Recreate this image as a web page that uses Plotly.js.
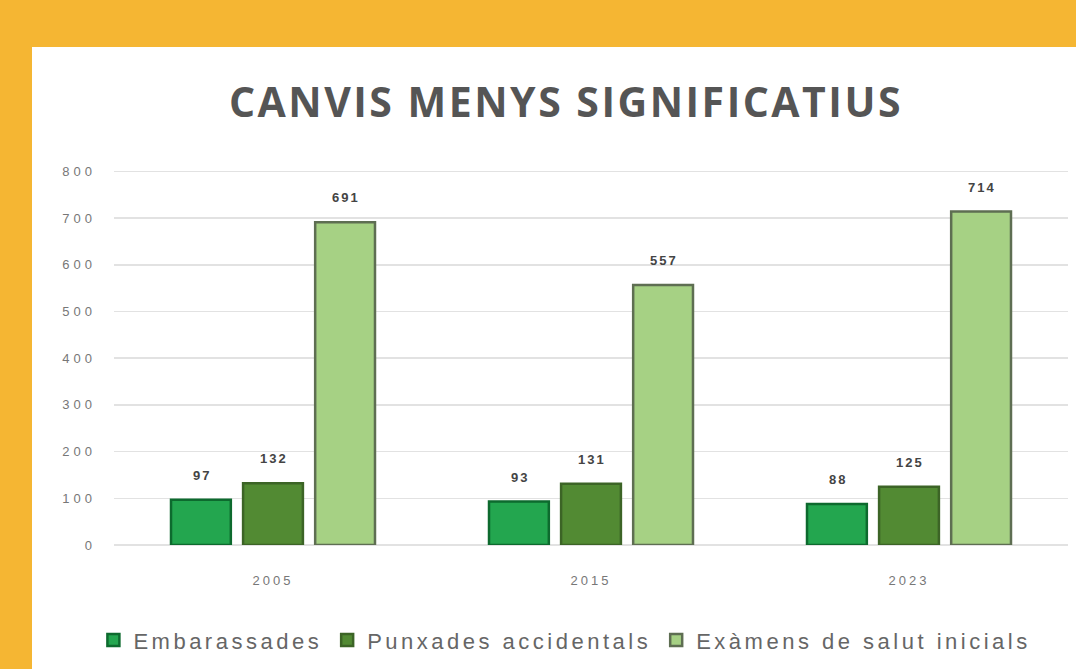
<!DOCTYPE html>
<html>
<head>
<meta charset="utf-8">
<script src="https://cdn.plot.ly/plotly-3.0.1.min.js"></script>
<style>
  html, body { margin: 0; padding: 0; width: 1076px; height: 669px; overflow: hidden; background: #F5B633; }
  #panel { position: absolute; left: 32px; top: 47px; width: 1044px; height: 622px; background: #ffffff; }
  #chart { position: absolute; left: 0; top: 0; width: 1076px; height: 669px; }
  .xtick text { letter-spacing: 3px; }
  .ytick text { letter-spacing: 4px; }
  .legendtext { letter-spacing: 3.5px; }
  .annotation-text { letter-spacing: 2px; }
  .gtitle { letter-spacing: 2.5px; }
</style>
</head>
<body>
<div id="panel"></div>
<div id="chart"></div>
<script>
const years = ["2005", "2015", "2023"];
const seriesNames = ["Embarassades", "Punxades accidentals", "Exàmens de salut inicials"];
const embarassades = [97, 93, 88];
const punxades = [132, 131, 125];
const examens = [691, 557, 714];
const yTicks = [0, 100, 200, 300, 400, 500, 600, 700, 800];

const fills = ["#23A64F", "#528A33", "#A6D184"];
const borders = ["#0D6A2E", "#3C6426", "#5E6E52"];
const values = [embarassades, punxades, examens];

const traces = values.map((v, i) => ({
  type: "bar",
  name: seriesNames[i],
  x: years,
  y: v,
  marker: { color: fills[i], line: { color: borders[i], width: 2.5 } },
  hoverinfo: "x+y+name"
}));

// value labels above each bar (positioned through the category axis index and the y axis)
const slotShift = [-72, 0, 72];
const annotations = [];
values.forEach((v, i) => {
  v.forEach((val, j) => {
    annotations.push({
      x: j, y: val, xref: "x", yref: "y",
      text: "<b>" + val + "</b>",
      showarrow: false,
      xanchor: "center", yanchor: "bottom",
      xshift: slotShift[i] + 1, yshift: 15,
      font: { family: "Liberation Sans, Arial, sans-serif", size: 13, color: "#444444" }
    });
  });
});

const layout = {
  width: 1076,
  height: 669,
  paper_bgcolor: "rgba(0,0,0,0)",
  plot_bgcolor: "rgba(0,0,0,0)",
  margin: { l: 114, r: 8, t: 170, b: 124 },
  title: {
    text: "<b>CANVIS MENYS SIGNIFICATIUS</b>",
    x: 0.526, xanchor: "center",
    y: 0.846, yanchor: "middle",
    xref: "container", yref: "container",
    font: { family: "Open Sans, sans-serif", size: 41, color: "#555555" }
  },
  barmode: "group",
  bargap: 0.32,
  bargroupgap: 0.17,
  xaxis: {
    type: "category",
    categoryorder: "array",
    categoryarray: years,
    range: [-0.5, years.length - 0.5],
    showgrid: false,
    zeroline: false,
    showline: false,
    ticks: "",
    tickfont: { family: "Liberation Sans, Arial, sans-serif", size: 13, color: "#777777" },
    ticklabelstandoff: 26
  },
  yaxis: {
    range: [0, 803],
    tickvals: yTicks,
    ticktext: yTicks.map(String),
    showgrid: true,
    gridcolor: "#E2E2E2",
    gridwidth: 1.5,
    zeroline: true,
    zerolinecolor: "#E2E2E2",
    zerolinewidth: 1.5,
    showline: false,
    ticks: "",
    ticklabelstandoff: 17,
    tickfont: { family: "Liberation Sans, Arial, sans-serif", size: 13, color: "#777777" }
  },
  annotations: annotations,
  showlegend: true,
  legend: {
    orientation: "h",
    x: 0.525, xanchor: "center",
    y: 0.043, yanchor: "middle",
    xref: "container", yref: "container",
    font: { family: "Liberation Sans, Arial, sans-serif", size: 22, color: "#666666" },
    traceorder: "normal",
    bgcolor: "rgba(0,0,0,0)"
  }
};

Plotly.newPlot("chart", traces, layout, { displayModeBar: false, staticPlot: true });
</script>
</body>
</html>
